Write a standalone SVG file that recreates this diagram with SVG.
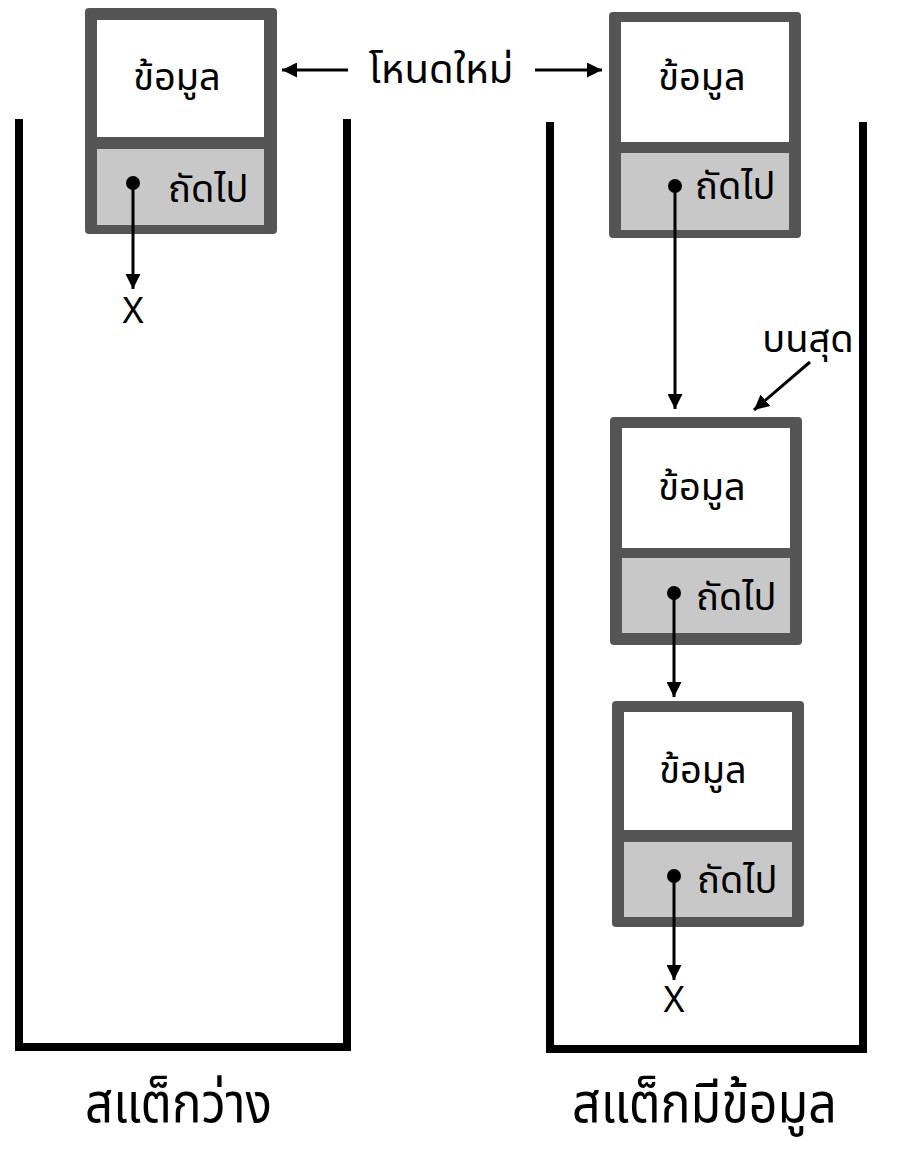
<svg xmlns="http://www.w3.org/2000/svg" width="920" height="1152" viewBox="0 0 920 1152">
<defs>
<marker id="ah" viewBox="0 0 10 10" refX="10" refY="5" markerWidth="5" markerHeight="5" markerUnits="strokeWidth" orient="auto">
<path d="M0,0 L10,5 L0,10 z" fill="#000"/>
</marker>
<style>
.frame{fill:#555;}
.data{fill:#fff;}
.next{fill:#c8c8c8;}
.t{font-family:"Noto Sans Thai","Noto Sans","DejaVu Sans",sans-serif;fill:#000;}
.nt{font-size:38px;text-anchor:middle;}
.lt{font-size:38px;}
.big{font-size:56px;}
.wall{fill:none;stroke:#000;stroke-width:8;}
.ln{stroke:#000;stroke-width:3;fill:none;marker-end:url(#ah);}
</style>
</defs>
<rect width="920" height="1152" fill="#fff"/>
<g id="stack-empty">
<path class="wall" d="M19 119 V1047 H347 V119"/>
<text class="t big" x="85" y="1122" textLength="187" lengthAdjust="spacingAndGlyphs">สแต็กว่าง</text>
</g>
<g id="stack-full">
<path class="wall" d="M550 122 V1049 H863 V122"/>
<text class="t big" x="572" y="1122" textLength="265" lengthAdjust="spacingAndGlyphs">สแต็กมีข้อมูล</text>
</g>
<g id="node-new-left">
<rect class="frame" x="85" y="8" width="192" height="226" rx="4"/>
<rect class="data" x="97" y="20" width="167" height="117"/>
<rect class="next" x="97" y="149" width="167" height="76"/>
<text class="t nt" x="177" y="90">ข้อมูล</text>
<text class="t lt" x="168" y="202">ถัดไป</text>
<circle cx="133" cy="183" r="7"/>
</g>
<g id="node-new-right">
<rect class="frame" x="609" y="12" width="192" height="226" rx="4"/>
<rect class="data" x="621" y="22" width="168" height="120"/>
<rect class="next" x="621" y="153" width="168" height="77"/>
<text class="t nt" x="702" y="90">ข้อมูล</text>
<text class="t lt" x="695" y="199">ถัดไป</text>
<circle cx="675" cy="186" r="7"/>
</g>
<g id="node-top">
<rect class="frame" x="610" y="417" width="192" height="228" rx="4"/>
<rect class="data" x="622" y="428" width="168" height="120"/>
<rect class="next" x="622" y="558" width="168" height="75"/>
<text class="t nt" x="702" y="500">ข้อมูล</text>
<text class="t lt" x="696" y="610">ถัดไป</text>
<circle cx="674" cy="593" r="7"/>
</g>
<g id="node-bottom">
<rect class="frame" x="612" y="701" width="192" height="226" rx="4"/>
<rect class="data" x="624" y="712" width="168" height="118"/>
<rect class="next" x="624" y="842" width="168" height="75"/>
<text class="t nt" x="703" y="783">ข้อมูล</text>
<text class="t lt" x="697" y="893">ถัดไป</text>
<circle cx="674" cy="876" r="7"/>
</g>
<g id="labels">
<text class="t" x="441" y="83" font-size="40" text-anchor="middle">โหนดใหม่</text>
<text class="t lt" x="808" y="352" text-anchor="middle">บนสุด</text>
<text class="t" x="133" y="323" font-size="36" text-anchor="middle">X</text>
<text class="t" x="674" y="1012" font-size="36" text-anchor="middle">X</text>
</g>
<g id="connectors">
<line class="ln" x1="133" y1="183" x2="133" y2="289"/>
<line class="ln" x1="348" y1="70" x2="282" y2="70"/>
<line class="ln" x1="535" y1="70" x2="602" y2="70"/>
<line class="ln" x1="675" y1="186" x2="675" y2="409"/>
<line class="ln" x1="810" y1="362" x2="754" y2="410"/>
<line class="ln" x1="674" y1="593" x2="674" y2="697"/>
<line class="ln" x1="674" y1="876" x2="674" y2="980"/>
</g>
</svg>
